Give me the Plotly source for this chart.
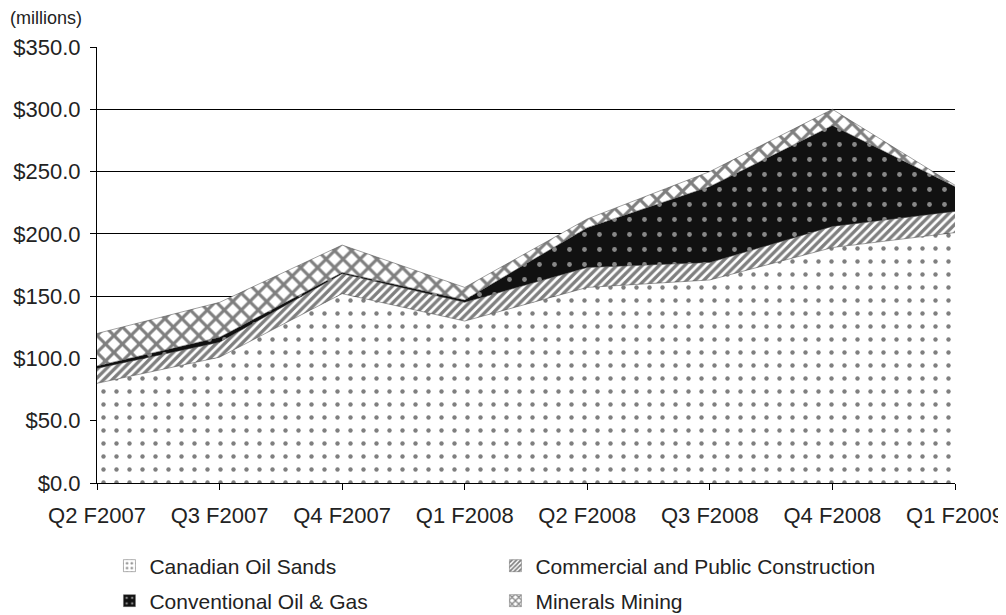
import plotly.graph_objects as go

quarters = ["Q2 F2007", "Q3 F2007", "Q4 F2007", "Q1 F2008",
            "Q2 F2008", "Q3 F2008", "Q4 F2008", "Q1 F2009"]
canadian_oil_sands = [80, 101, 152, 130, 157, 163, 189, 201]
commercial_public = [12, 12, 16, 15, 16, 14, 17, 17]
conventional_oil_gas = [2, 4, 1, 2, 32, 61, 81, 20]
minerals_mining = [26, 28, 22, 10, 7, 12, 13, 1]

FONT = "Liberation Sans, Arial, sans-serif"
TXT = "#222222"

fig = go.Figure()

series = [
    ("Canadian Oil Sands", canadian_oil_sands,
     dict(shape=".", fgcolor="black", bgcolor="white", size=13, solidity=0.09, fillmode="overlay"), "legend"),
    ("Commercial and Public Construction", commercial_public,
     dict(shape="/", fgcolor="black", bgcolor="white", size=6, solidity=0.55, fillmode="overlay"), "legend"),
    ("Conventional Oil & Gas", conventional_oil_gas,
     dict(shape=".", fgcolor="white", bgcolor="#111111", size=15, solidity=0.08, fillmode="overlay"), "legend2"),
    ("Minerals Mining", minerals_mining,
     dict(shape="x", fgcolor="black", bgcolor="white", size=12, solidity=0.45, fillmode="overlay"), "legend2"),
]

# stacked areas
for name, vals, pat, lg in series:
    fig.add_trace(go.Scatter(
        x=quarters, y=vals, name=name, mode="lines",
        stackgroup="one", line=dict(color="#444444", width=0.5),
        fillpattern=pat, showlegend=False,
    ))

# legend entries (small patterned squares)
for name, vals, pat, lg in series:
    fig.add_trace(go.Bar(
        x=[quarters[0]], y=[None], name=name, legend=lg,
        marker=dict(color=pat["bgcolor"], line=dict(width=0.5, color="#666666"),
                    pattern=dict(shape=pat["shape"], fgcolor=pat["fgcolor"],
                                 bgcolor=pat["bgcolor"], size=max(4, pat["size"] // 2),
                                 solidity=pat["solidity"] * 2 if pat["shape"] == "." else pat["solidity"],
                                 fillmode="overlay")),
        showlegend=True, hoverinfo="skip",
    ))

fig.update_layout(
    width=1006, height=640,
    margin=dict(l=89, r=59, t=39, b=165),
    paper_bgcolor="white", plot_bgcolor="white",
    font=dict(family=FONT, size=21, color=TXT),
    showlegend=True,
    legend=dict(orientation="h", x=0.0145, y=-0.1904, xanchor="left", yanchor="middle",
                entrywidth=341, entrywidthmode="pixels", font=dict(size=21, color=TXT),
                bgcolor="rgba(0,0,0,0)", traceorder="normal"),
    legend2=dict(orientation="h", x=0.0145, y=-0.2706, xanchor="left", yanchor="middle",
                 entrywidth=341, entrywidthmode="pixels", font=dict(size=21, color=TXT),
                 bgcolor="rgba(0,0,0,0)", traceorder="normal"),
    annotations=[dict(text="(millions)", xref="paper", yref="paper", x=-0.1037, y=1.0654,
                      xanchor="left", yanchor="middle", showarrow=False,
                      font=dict(size=18, family=FONT, color=TXT))],
)

fig.update_xaxes(
    type="category", range=[0, 7], showgrid=False, showline=True, linecolor="black",
    linewidth=1, ticks="outside", ticklen=6, tickcolor="black",
    tickfont=dict(size=22), ticklabelstandoff=7, automargin=False,
)
fig.update_yaxes(
    range=[0, 350], dtick=50, tickprefix="$", tickformat=".1f",
    showgrid=True, gridcolor="black", gridwidth=1, zeroline=False,
    showline=True, linecolor="black", linewidth=1,
    ticks="outside", ticklen=6, tickcolor="black", tickfont=dict(size=22),
    ticklabelstandoff=5, automargin=False,
)

fig.write_html("out.html")
